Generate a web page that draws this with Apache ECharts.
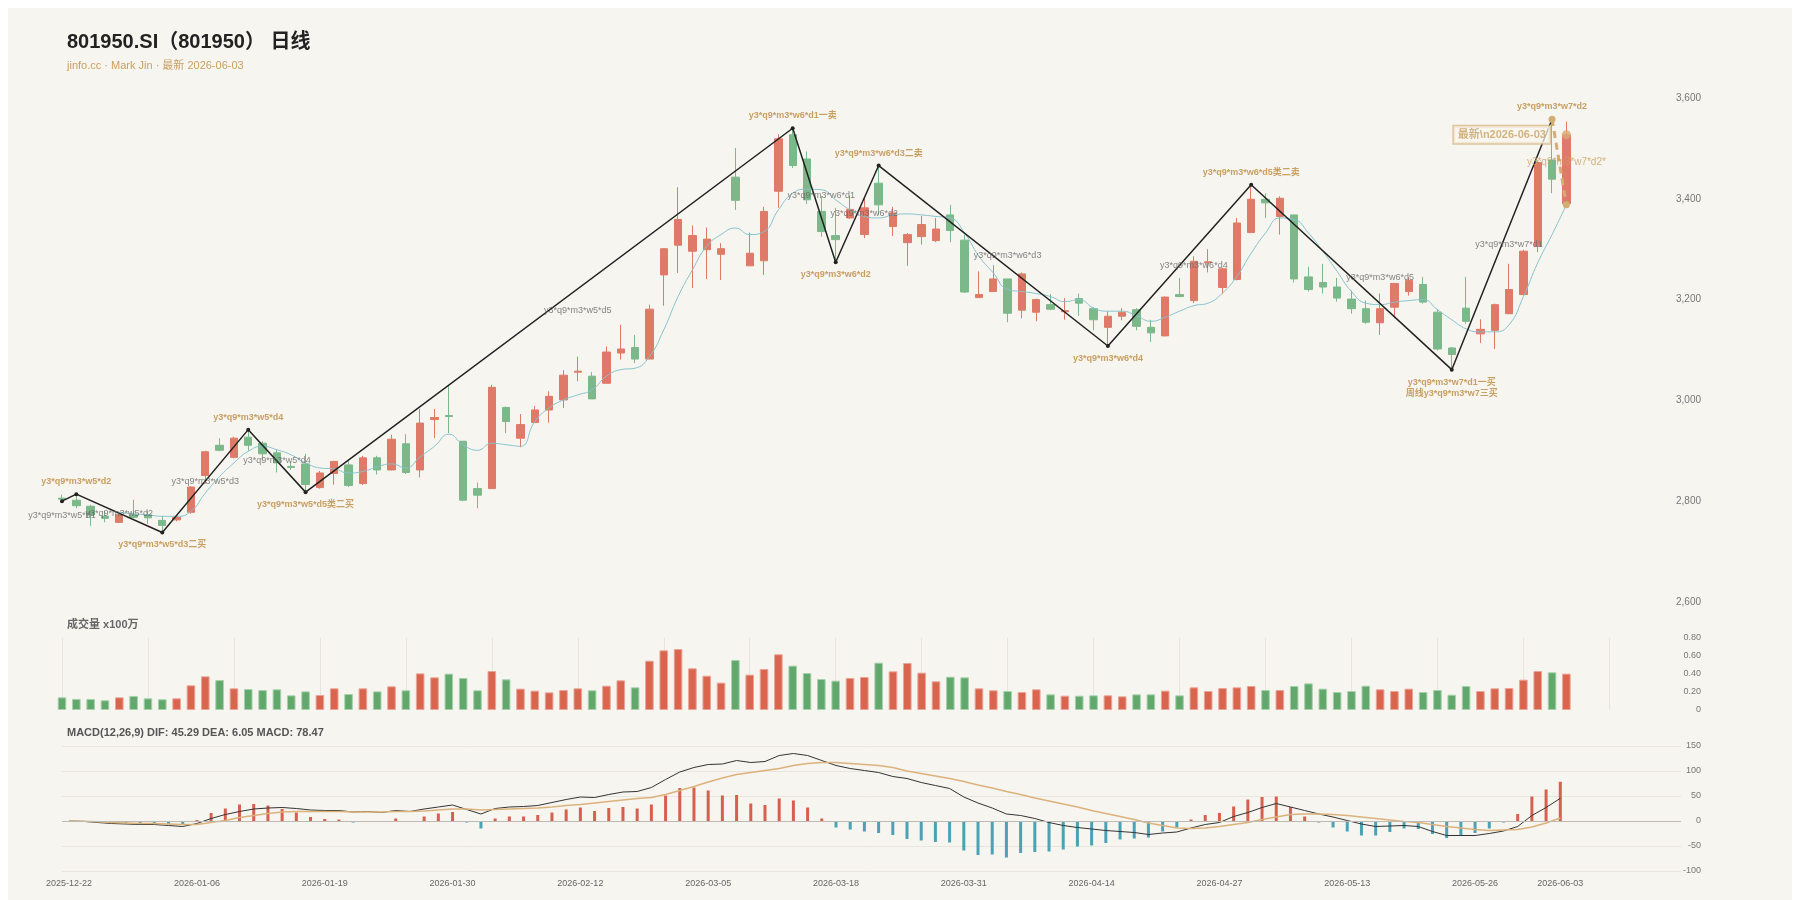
<!DOCTYPE html>
<html>
<head>
<meta charset="utf-8">
<title>801950.SI 日线</title>
<script src="https://cdn.jsdelivr.net/npm/echarts@6.0.0/dist/echarts.min.js"></script>
<style>
    html, body { padding: 0; background: #fff; overflow: hidden; }
    body { margin: 8px; }
    #echart_kline { width: 1784px; height: 900px; background: #f7f5f0; }
</style>
</head>
<body>
<div id="echart_kline"></div>
<script>
var dates = [
    '2025-12-22', '2025-12-23', '2025-12-24', '2025-12-25', '2025-12-26', '2025-12-29', '2025-12-30', '2025-12-31',
    '2026-01-05', '2026-01-06', '2026-01-07', '2026-01-08', '2026-01-09', '2026-01-12', '2026-01-13', '2026-01-14',
    '2026-01-15', '2026-01-16', '2026-01-19', '2026-01-20', '2026-01-21', '2026-01-22', '2026-01-23', '2026-01-26',
    '2026-01-27', '2026-01-28', '2026-01-29', '2026-01-30', '2026-02-02', '2026-02-03', '2026-02-04', '2026-02-05',
    '2026-02-06', '2026-02-09', '2026-02-10', '2026-02-11', '2026-02-12', '2026-02-13', '2026-02-24', '2026-02-25',
    '2026-02-26', '2026-02-27', '2026-03-02', '2026-03-03', '2026-03-04', '2026-03-05', '2026-03-06', '2026-03-09',
    '2026-03-10', '2026-03-11', '2026-03-12', '2026-03-13', '2026-03-16', '2026-03-17', '2026-03-18', '2026-03-19',
    '2026-03-20', '2026-03-23', '2026-03-24', '2026-03-25', '2026-03-26', '2026-03-27', '2026-03-30', '2026-03-31',
    '2026-04-01', '2026-04-02', '2026-04-03', '2026-04-07', '2026-04-08', '2026-04-09', '2026-04-10', '2026-04-13',
    '2026-04-14', '2026-04-15', '2026-04-16', '2026-04-17', '2026-04-20', '2026-04-21', '2026-04-22', '2026-04-23',
    '2026-04-24', '2026-04-27', '2026-04-28', '2026-04-29', '2026-04-30', '2026-05-06', '2026-05-07', '2026-05-08',
    '2026-05-11', '2026-05-12', '2026-05-13', '2026-05-14', '2026-05-15', '2026-05-18', '2026-05-19', '2026-05-20',
    '2026-05-21', '2026-05-22', '2026-05-25', '2026-05-26', '2026-05-27', '2026-05-28', '2026-05-29', '2026-06-01',
    '2026-06-02', '2026-06-03'
];

var opens = [2806, 2802, 2790, 2770, 2758, 2773, 2773, 2762, 2763, 2778,
    2851, 2911, 2887, 2927, 2915, 2896, 2869, 2874, 2827, 2855,
    2872, 2835, 2886, 2862, 2914, 2862, 2962, 2970, 2919, 2825,
    2825, 2986, 2925, 2956, 2981, 3001, 3056, 3048, 3034, 3094,
    3105, 3082, 3249, 3308, 3296, 3299, 3290, 3443, 3267, 3277,
    3415, 3527, 3479, 3375, 3327, 3362, 3329, 3431, 3345, 3313,
    3325, 3317, 3368, 3318, 3204, 3216, 3241, 3179, 3175, 3190,
    3176, 3202, 3182, 3145, 3167, 3180, 3145, 3128, 3210, 3198,
    3273, 3224, 3240, 3333, 3399, 3365, 3368, 3245, 3234, 3225,
    3201, 3182, 3154, 3185, 3216, 3230, 3175, 3104, 3183, 3132,
    3139, 3172, 3210, 3306, 3477, 3390];
var closes = [2804, 2791, 2773, 2766, 2773, 2768, 2767, 2752, 2768, 2828,
    2898, 2901, 2925, 2911, 2894, 2876, 2867, 2833, 2856, 2879,
    2831, 2886, 2862, 2923, 2857, 2955, 2966, 2968, 2802, 2812,
    3026, 2958, 2952, 2981, 3008, 3050, 3058, 3003, 3096, 3102,
    3082, 3181, 3301, 3359, 3327, 3320, 3301, 3397, 3292, 3375,
    3519, 3466, 3398, 3335, 3319, 3379, 3382, 3388, 3372, 3329,
    3349, 3340, 3337, 3215, 3210, 3241, 3173, 3251, 3200, 3181,
    3178, 3193, 3160, 3167, 3175, 3147, 3134, 3205, 3206, 3276,
    3275, 3261, 3352, 3399, 3392, 3401, 3241, 3220, 3225, 3203,
    3182, 3155, 3182, 3232, 3238, 3195, 3102, 3091, 3157, 3141,
    3190, 3220, 3296, 3472, 3439, 3527];
var lows = [2797, 2786, 2751, 2758, 2757, 2766, 2755, 2738, 2760, 2775,
    2835, 2899, 2885, 2900, 2882, 2857, 2862, 2818, 2825, 2833,
    2828, 2832, 2853, 2861, 2854, 2847, 2925, 2935, 2800, 2786,
    2825, 2935, 2907, 2956, 2956, 2985, 3038, 3003, 3034, 3081,
    3074, 3082, 3188, 3253, 3223, 3241, 3239, 3378, 3267, 3249,
    3382, 3461, 3390, 3325, 3274, 3360, 3322, 3370, 3326, 3267,
    3309, 3314, 3314, 3213, 3203, 3215, 3155, 3163, 3157, 3179,
    3160, 3168, 3139, 3108, 3159, 3139, 3116, 3127, 3205, 3193,
    3254, 3212, 3238, 3332, 3362, 3329, 3234, 3216, 3212, 3196,
    3172, 3152, 3130, 3163, 3208, 3192, 3099, 3061, 3152, 3114,
    3102, 3172, 3208, 3294, 3411, 3388];
var highs = [2813, 2814, 2793, 2780, 2775, 2803, 2780, 2771, 2771, 2830,
    2900, 2925, 2928, 2942, 2919, 2902, 2879, 2894, 2860, 2880,
    2879, 2890, 2890, 2932, 2933, 2983, 2983, 3031, 2919, 2837,
    3031, 2988, 2973, 2989, 3018, 3060, 3087, 3056, 3107, 3150,
    3130, 3190, 3301, 3423, 3347, 3343, 3312, 3501, 3333, 3384,
    3528, 3540, 3494, 3405, 3382, 3406, 3403, 3466, 3384, 3332,
    3366, 3362, 3388, 3329, 3256, 3268, 3241, 3254, 3202, 3211,
    3203, 3212, 3185, 3177, 3183, 3183, 3160, 3206, 3243, 3286,
    3300, 3263, 3362, 3428, 3411, 3405, 3368, 3265, 3271, 3243,
    3218, 3198, 3212, 3233, 3245, 3245, 3181, 3106, 3245, 3161,
    3192, 3271, 3299, 3476, 3558, 3553];

var ma = ['-', '-', '-', '-', 2778, 2775, 2773, 2770, 2770, 2780,
    2816, 2849, 2876, 2899, 2909, 2902, 2892, 2876, 2866, 2864,
    2856, 2859, 2868, 2874, 2866, 2888, 2909, 2933, 2912, 2901,
    2915, 2912, 2909, 2958, 2985, 3001, 3011, 3021, 3048, 3061,
    3064, 3087, 3140, 3206, 3259, 3306, 3329, 3342, 3329, 3335,
    3378, 3411, 3419, 3418, 3398, 3378, 3365, 3362, 3368, 3370,
    3368, 3365, 3362, 3332, 3286, 3253, 3220, 3216, 3212, 3206,
    3196, 3200, 3183, 3177, 3177, 3168, 3157, 3165, 3177, 3188,
    3193, 3213, 3246, 3292, 3332, 3362, 3359, 3332, 3296, 3256,
    3216, 3193, 3190, 3195, 3198, 3200, 3180, 3160, 3142, 3136,
    3136, 3150, 3206, 3273, 3329, 3388];

// 成交量, x100万
var vols = [0.141, 0.123, 0.123, 0.108, 0.141, 0.156, 0.130, 0.119, 0.130, 0.274,
    0.374, 0.333, 0.241, 0.233, 0.222, 0.230, 0.163, 0.207, 0.167, 0.241,
    0.178, 0.241, 0.207, 0.263, 0.219, 0.407, 0.363, 0.404, 0.356, 0.219,
    0.433, 0.341, 0.237, 0.215, 0.196, 0.222, 0.241, 0.219, 0.270, 0.330,
    0.252, 0.548, 0.663, 0.678, 0.463, 0.381, 0.304, 0.556, 0.393, 0.456,
    0.619, 0.493, 0.411, 0.344, 0.326, 0.356, 0.367, 0.526, 0.430, 0.522,
    0.415, 0.319, 0.370, 0.363, 0.241, 0.219, 0.211, 0.200, 0.230, 0.174,
    0.159, 0.159, 0.163, 0.163, 0.152, 0.174, 0.174, 0.215, 0.163, 0.252,
    0.211, 0.244, 0.252, 0.267, 0.222, 0.222, 0.267, 0.296, 0.237, 0.200,
    0.211, 0.270, 0.230, 0.211, 0.237, 0.200, 0.222, 0.170, 0.267, 0.211,
    0.241, 0.244, 0.337, 0.433, 0.419, 0.404];

var macdHist = [0, 0, -2, -4, -5, -5, -5, -6, -6, 2,
    16, 25, 33, 34, 31, 24, 17, 8, 4, 3,
    -3, 0, -2, 5, 0, 9, 15, 18, -3, -15,
    5, 9, 9, 12, 17, 23, 27, 20, 26, 28,
    25, 33, 51, 66, 67, 61, 51, 52, 35, 32,
    45, 41, 27, 5, -13, -17, -21, -24, -28, -36,
    -39, -42, -43, -59, -68, -67, -73, -64, -62, -61,
    -57, -51, -49, -44, -37, -35, -33, -21, -13, 3,
    12, 16, 29, 43, 48, 49, 28, 9, -3, -13,
    -21, -29, -29, -22, -15, -16, -26, -34, -29, -24,
    -15, -3, 14, 49, 63, 78.47];
var dif = [0, -0.7, -3, -5, -6, -7, -7, -9, -11, -5,
    5, 13, 19, 24, 26, 27, 25, 22, 21, 21,
    18, 19, 17, 21, 19, 24, 28, 32, 23, 14,
    25, 28, 29, 31, 37, 43, 48, 47, 53, 58,
    59, 67, 83, 98, 107, 113, 114, 121, 117, 119,
    131, 135, 131, 121, 111, 105, 101, 97, 89, 85,
    77, 71, 65, 48, 36, 26, 14, 11, 5, -3,
    -9, -13, -16, -19, -21, -23, -27, -24, -22, -14,
    -7, -3, 9, 17, 27, 35, 28, 21, 14, 8,
    1, -6, -11, -10, -9, -11, -21, -29, -29, -29,
    -25, -20, -11, 11, 27, 45.29];
var dea = [0, -0.7, -1.5, -3, -4, -5, -5, -6, -7, -7,
    -3, 1, 7, 11, 15, 18, 19, 19, 19, 19,
    18, 18, 18, 19, 19, 20, 22, 24, 24, 22,
    23, 24, 25, 26, 28, 31, 33, 36, 39, 42,
    45, 47, 53, 61, 69, 78, 86, 93, 97, 101,
    105, 111, 115, 117, 117, 115, 113, 111, 107, 100,
    95, 90, 85, 79, 72, 66, 59, 53, 46, 40,
    34, 28, 21, 15, 9, 3, -4, -9, -14, -15,
    -14, -11, -7, -3, 3, 8, 13, 14, 14, 13,
    11, 8, 5, 2, -1, -3, -7, -11, -14, -17,
    -19, -18, -17, -12, -4, 6.05];

// 笔的端点
var biIdx = [0, 1, 7, 13, 17, 51, 54, 57, 73, 83, 97, 104];
var biVal = [2800, 2814, 2738, 2942, 2818, 3540, 3274, 3466, 3108, 3428, 3061, 3558];
var biText = ['', 'y3*q9*m3*w5*d2', 'y3*q9*m3*w5*d3二买', 'y3*q9*m3*w5*d4', 'y3*q9*m3*w5*d5类二买',
    'y3*q9*m3*w6*d1一卖', 'y3*q9*m3*w6*d2', 'y3*q9*m3*w6*d3二卖', 'y3*q9*m3*w6*d4',
    'y3*q9*m3*w6*d5类二卖', 'y3*q9*m3*w7*d1一买\n周线y3*q9*m3*w7三买', 'y3*q9*m3*w7*d2'];

// 笔的名称 (中段)
var segIdx = [0, 4, 10, 15, 36, 53, 56, 66, 79, 92, 101];
var segVal = [2771, 2776, 2840, 2880, 3179, 3407, 3370, 3287, 3268, 3244, 3309];
var segText = ['y3*q9*m3*w5*d1', 'y3*q9*m3*w5*d2', 'y3*q9*m3*w5*d3', 'y3*q9*m3*w5*d4', 'y3*q9*m3*w5*d5',
    'y3*q9*m3*w6*d1', 'y3*q9*m3*w6*d2', 'y3*q9*m3*w6*d3', 'y3*q9*m3*w6*d4', 'y3*q9*m3*w6*d5',
    'y3*q9*m3*w7*d1'];

// 未完成的笔
var pendIdx = [104, 105];
var pendVal = [3558, 3388];
var pendText = 'y3*q9*m3*w7*d2*';

var padCount = 8;

var upColor = '#de7a67', downColor = '#7bb88a';
var upVol = '#d9654f', downVol = '#62a86c';
var gold = '#c9a063';
var last = dates.length - 1;

var cats = dates.slice();
for (var p = 0; p < padCount; p++) {
    cats.push(new Array(p + 2).join(' '));
}

var kData = [], volData = [], histData = [];
for (var i = 0; i < dates.length; i++) {
    var up = closes[i] >= opens[i];
    kData.push([opens[i], closes[i], lows[i], highs[i]]);
    volData.push({
        value: vols[i],
        itemStyle: {color: up ? upVol : downVol, borderColor: up ? '#eaa597' : '#a7d2ad', borderWidth: 1}
    });
    histData.push({value: macdHist[i], itemStyle: {color: macdHist[i] >= 0 ? '#d6604d' : '#4aa2b4'}});
}

var biData = [];
for (var k = 0; k < biIdx.length; k++) {
    var other = k < biIdx.length - 1 ? biVal[k + 1] : biVal[k - 1];
    biData.push({
        value: [biIdx[k], biVal[k]],
        label: {position: biVal[k] > other ? 'top' : 'bottom'}
    });
}

var segData = [];
for (var s = 0; s < segIdx.length; s++) {
    segData.push({value: [segIdx[s], segVal[s]], name: segText[s]});
}

var pendData = [[pendIdx[0], pendVal[0]], [pendIdx[1], pendVal[1]]];

var fontFamily = 'Arial, "Liberation Sans", "Noto Sans CJK SC", sans-serif';
var axisText = {fontSize: 10, color: '#777'};

var klineOptions = {
    animation: false,
    textStyle: {fontFamily: fontFamily},
    title: [
        {text: '801950.SI（801950） 日线', left: 59, top: 24, padding: 0,
            textStyle: {fontSize: 20, fontWeight: 'bold', color: '#222'}},
        {text: 'jinfo.cc · Mark Jin · 最新 ' + dates[last], left: 59, top: 52, padding: 0,
            textStyle: {fontSize: 11, fontWeight: 'normal', color: gold}},
        {text: '成交量 x100万', left: 59, top: 611, padding: 0,
            textStyle: {fontSize: 11, fontWeight: 'bold', color: '#666'}},
        {text: 'MACD(12,26,9) DIF: 45.29 DEA: 6.05 MACD: 78.47', left: 59, top: 719, padding: 0,
            textStyle: {fontSize: 11, fontWeight: 'bold', color: '#555'}}
    ],
    grid: [
        {left: 54, right: 111, top: 90, height: 504},
        {left: 54, right: 111, top: 630, height: 72},
        {left: 54, right: 111, top: 738, height: 125}
    ],
    xAxis: [
        {type: 'category', gridIndex: 0, data: cats, boundaryGap: false,
            axisLine: {show: false}, axisTick: {show: false}, axisLabel: {show: false}, splitLine: {show: false}},
        {type: 'category', gridIndex: 1, data: cats, boundaryGap: false,
            axisLine: {show: false}, axisTick: {show: false}, axisLabel: {show: false},
            splitLine: {show: true, interval: 5, lineStyle: {color: '#e7e4dd', width: 1}}},
        {type: 'category', gridIndex: 2, data: cats, boundaryGap: true,
            axisLine: {show: false}, axisTick: {show: false}, splitLine: {show: false},
            axisLabel: {
                fontSize: 9, color: '#666', margin: 8,
                interval: function (idx) {
                    return (idx % 9 === 0 && idx < last) || idx === last;
                }
            }}
    ],
    yAxis: [
        {type: 'value', gridIndex: 0, position: 'right', min: 2600, max: 3600, interval: 200,
            axisLine: {show: false}, axisTick: {show: false}, splitLine: {show: false},
            axisLabel: {
                fontSize: axisText.fontSize, color: axisText.color, align: 'right', margin: 20,
                formatter: function (v) {
                    return v.toLocaleString('en-US');
                }
            }},
        {type: 'value', gridIndex: 1, position: 'right', min: 0, max: 0.8, interval: 0.2,
            axisLine: {show: false}, axisTick: {show: false}, splitLine: {show: false},
            axisLabel: {
                fontSize: 9, color: axisText.color, align: 'right', margin: 20,
                formatter: function (v) {
                    return v === 0 ? '0' : v.toFixed(2);
                }
            }},
        {type: 'value', gridIndex: 2, position: 'right', min: -100, max: 150, interval: 50,
            axisLine: {show: false}, axisTick: {show: false},
            splitLine: {show: true, lineStyle: {color: '#e9e6df'}},
            axisLabel: {fontSize: 9, color: axisText.color, align: 'right', margin: 20}}
    ],
    series: [
        {
            name: 'K', type: 'candlestick', xAxisIndex: 0, yAxisIndex: 0,
            barWidth: '55%',
            data: kData,
            itemStyle: {color: upColor, color0: downColor, borderColor: upColor, borderColor0: downColor, borderWidth: 1}
        },
        {
            name: 'MA', type: 'line', xAxisIndex: 0, yAxisIndex: 0,
            data: ma, smooth: true, showSymbol: false,
            lineStyle: {color: '#86c2cc', width: 1}
        },
        {
            name: '笔', type: 'line', xAxisIndex: 0, yAxisIndex: 0, z: 5,
            data: biData,
            symbol: 'circle', symbolSize: 4,
            itemStyle: {color: '#222'},
            lineStyle: {color: '#222', width: 1.5},
            label: {
                show: true, distance: 5, color: gold, fontSize: 9, fontWeight: 'bold', lineHeight: 11,
                formatter: function (p) {
                    return biText[p.dataIndex];
                }
            }
        },
        {
            name: '笔名', type: 'scatter', xAxisIndex: 0, yAxisIndex: 0, z: 6,
            data: segData, symbolSize: 0,
            label: {show: true, position: 'inside', color: '#666', fontSize: 9, formatter: '{b}'}
        },
        {
            name: '未完成', type: 'line', xAxisIndex: 0, yAxisIndex: 0, z: 6,
            data: pendData,
            symbol: 'circle', symbolSize: 7,
            itemStyle: {color: '#d4ad72'},
            lineStyle: {color: '#d4ad72', width: 3, type: [7, 5]}
        },
        {
            name: '未完成名', type: 'scatter', xAxisIndex: 0, yAxisIndex: 0, z: 7,
            data: [[pendIdx[1], (pendVal[0] + pendVal[1]) / 2]], symbolSize: 0,
            label: {show: true, position: 'inside', color: gold, fontSize: 10, formatter: pendText}
        },
        {
            name: '最新', type: 'scatter', xAxisIndex: 0, yAxisIndex: 0, z: 8,
            data: [[last, closes[last]]],
            symbol: 'circle', symbolSize: 9,
            itemStyle: {color: '#d4ad72'},
            label: {
                show: true, position: 'left', distance: 12,
                formatter: '最新\\n' + dates[last],
                color: gold, fontSize: 11, fontWeight: 'bold',
                borderColor: '#d8b987', borderWidth: 1.5, padding: [3, 4],
                backgroundColor: 'rgba(250,247,239,0.9)'
            }
        },
        {
            name: '成交量', type: 'bar', xAxisIndex: 1, yAxisIndex: 1,
            barWidth: '60%', data: volData
        },
        {
            name: 'MACD', type: 'bar', xAxisIndex: 2, yAxisIndex: 2,
            barWidth: 3, data: histData,
            markLine: {
                silent: true, symbol: 'none', label: {show: false},
                lineStyle: {color: '#bdbab3', type: 'solid', width: 1},
                data: [{yAxis: 0}]
            }
        },
        {
            name: 'DIF', type: 'line', xAxisIndex: 2, yAxisIndex: 2,
            data: dif, showSymbol: false,
            lineStyle: {color: '#333', width: 1}
        },
        {
            name: 'DEA', type: 'line', xAxisIndex: 2, yAxisIndex: 2,
            data: dea, showSymbol: false,
            lineStyle: {color: '#dcb27c', width: 1.5}
        }
    ]
};

var echartKline = echarts.init(document.getElementById('echart_kline'));
echartKline.setOption(klineOptions);
</script>
</body>
</html>
